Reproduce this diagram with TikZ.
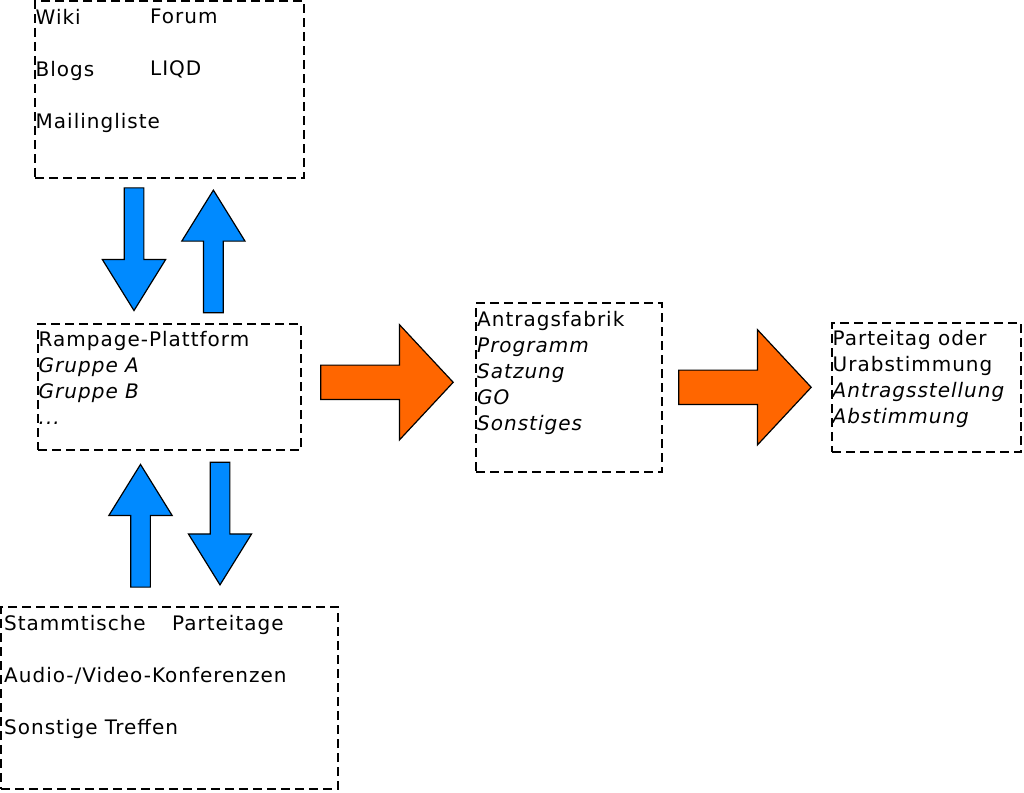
\documentclass[tikz,border=0pt]{standalone}
\usepackage{fontspec}
\setmainfont{DejaVu Sans}[LetterSpace=5]
\usetikzlibrary{shapes.arrows}

\definecolor{arrowblue}{RGB}{0,138,255}
\definecolor{arroworange}{RGB}{255,102,0}

\tikzset{
  box/.style = {draw, line width=2pt, dash pattern=on 9pt off 5pt, inner sep=0pt},
  boxtext/.style = {anchor=north west, inner sep=0pt, align=left,
    font=\fontsize{20}{26}\selectfont},
  blockarrow/.style = {single arrow, draw=black, line width=1.2pt, inner xsep=0pt,
    single arrow head indent=0pt, anchor=tip},
  bluearrow/.style = {blockarrow, fill=arrowblue, inner ysep=9.25pt,
    single arrow head extend=21.75pt, minimum height=122.7pt,
    single arrow tip angle=63.6},
  orangearrow/.style = {blockarrow, fill=arroworange, inner ysep=16.6pt,
    single arrow head extend=40.4pt, minimum height=132.5pt,
    single arrow tip angle=94}
}

\begin{document}
\begin{tikzpicture}[x=1pt, y=-1pt]
  \useasboundingbox (0,0) rectangle (1024,792);

  \node (netz) [box, minimum width=269pt, minimum height=177pt] at (169.5, 89.5) {};
  \node (rampage) [box, minimum width=263pt, minimum height=126pt] at (169.5, 387) {};
  \node (fabrik) [box, minimum width=186pt, minimum height=169pt] at (569, 387.5) {};
  \node (parteitag) [box, minimum width=189pt, minimum height=129pt] at (926.5, 387.5) {};
  \node (treffen) [box, minimum width=337pt, minimum height=182pt] at (169.5, 698) {};

  \node (netzlinks) [boxtext] at ([xshift=1.5pt, yshift=-8.8pt]netz.north west)
    {Wiki\\[26pt]Blogs\\[26pt]Mailingliste};
  \node (netzrechts) [boxtext] at ([xshift=116pt, yshift=-8.8pt]netz.north west)
    {Forum\\[26pt]LIQD};
  \node (rampagetext) [boxtext] at ([xshift=1.5pt, yshift=-8.2pt]rampage.north west)
    {Rampage-Plattform\\\textit{Gruppe A}\\\textit{Gruppe B}\\\textit{...}};
  \node (fabriktext) [boxtext] at ([xshift=2pt, yshift=-9.3pt]fabrik.north west)
    {Antragsfabrik\\\textit{Programm}\\\textit{Satzung}\\\textit{GO}\\\textit{Sonstiges}};
  \node (parteitagtext) [boxtext] at ([xshift=1.5pt, yshift=-8.5pt]parteitag.north west)
    {Parteitag oder\\Urabstimmung\\\textit{Antragsstellung}\\\textit{Abstimmung}};
  \node (treffenlinks) [boxtext] at ([xshift=4pt, yshift=-8.8pt]treffen.north west)
    {Stammtische\\[26pt]Audio-/Video-Konferenzen\\[26pt]Sonstige Treffen};
  \node (treffenrechts) [boxtext] at ([xshift=172pt, yshift=-8.8pt]treffen.north west)
    {Parteitage};

  \node (netzab) [bluearrow, rotate=-90] at (134, 311.7) {};
  \node (netzauf) [bluearrow, rotate=90] at (213.4, 189) {};
  \node (treffenauf) [bluearrow, rotate=90] at (140.5, 463.3) {};
  \node (treffenab) [bluearrow, rotate=-90] at (220, 586) {};
  \node (zurfabrik) [orangearrow] at (454, 382.3) {};
  \node (zumparteitag) [orangearrow] at (812, 387.3) {};
\end{tikzpicture}
\end{document}
